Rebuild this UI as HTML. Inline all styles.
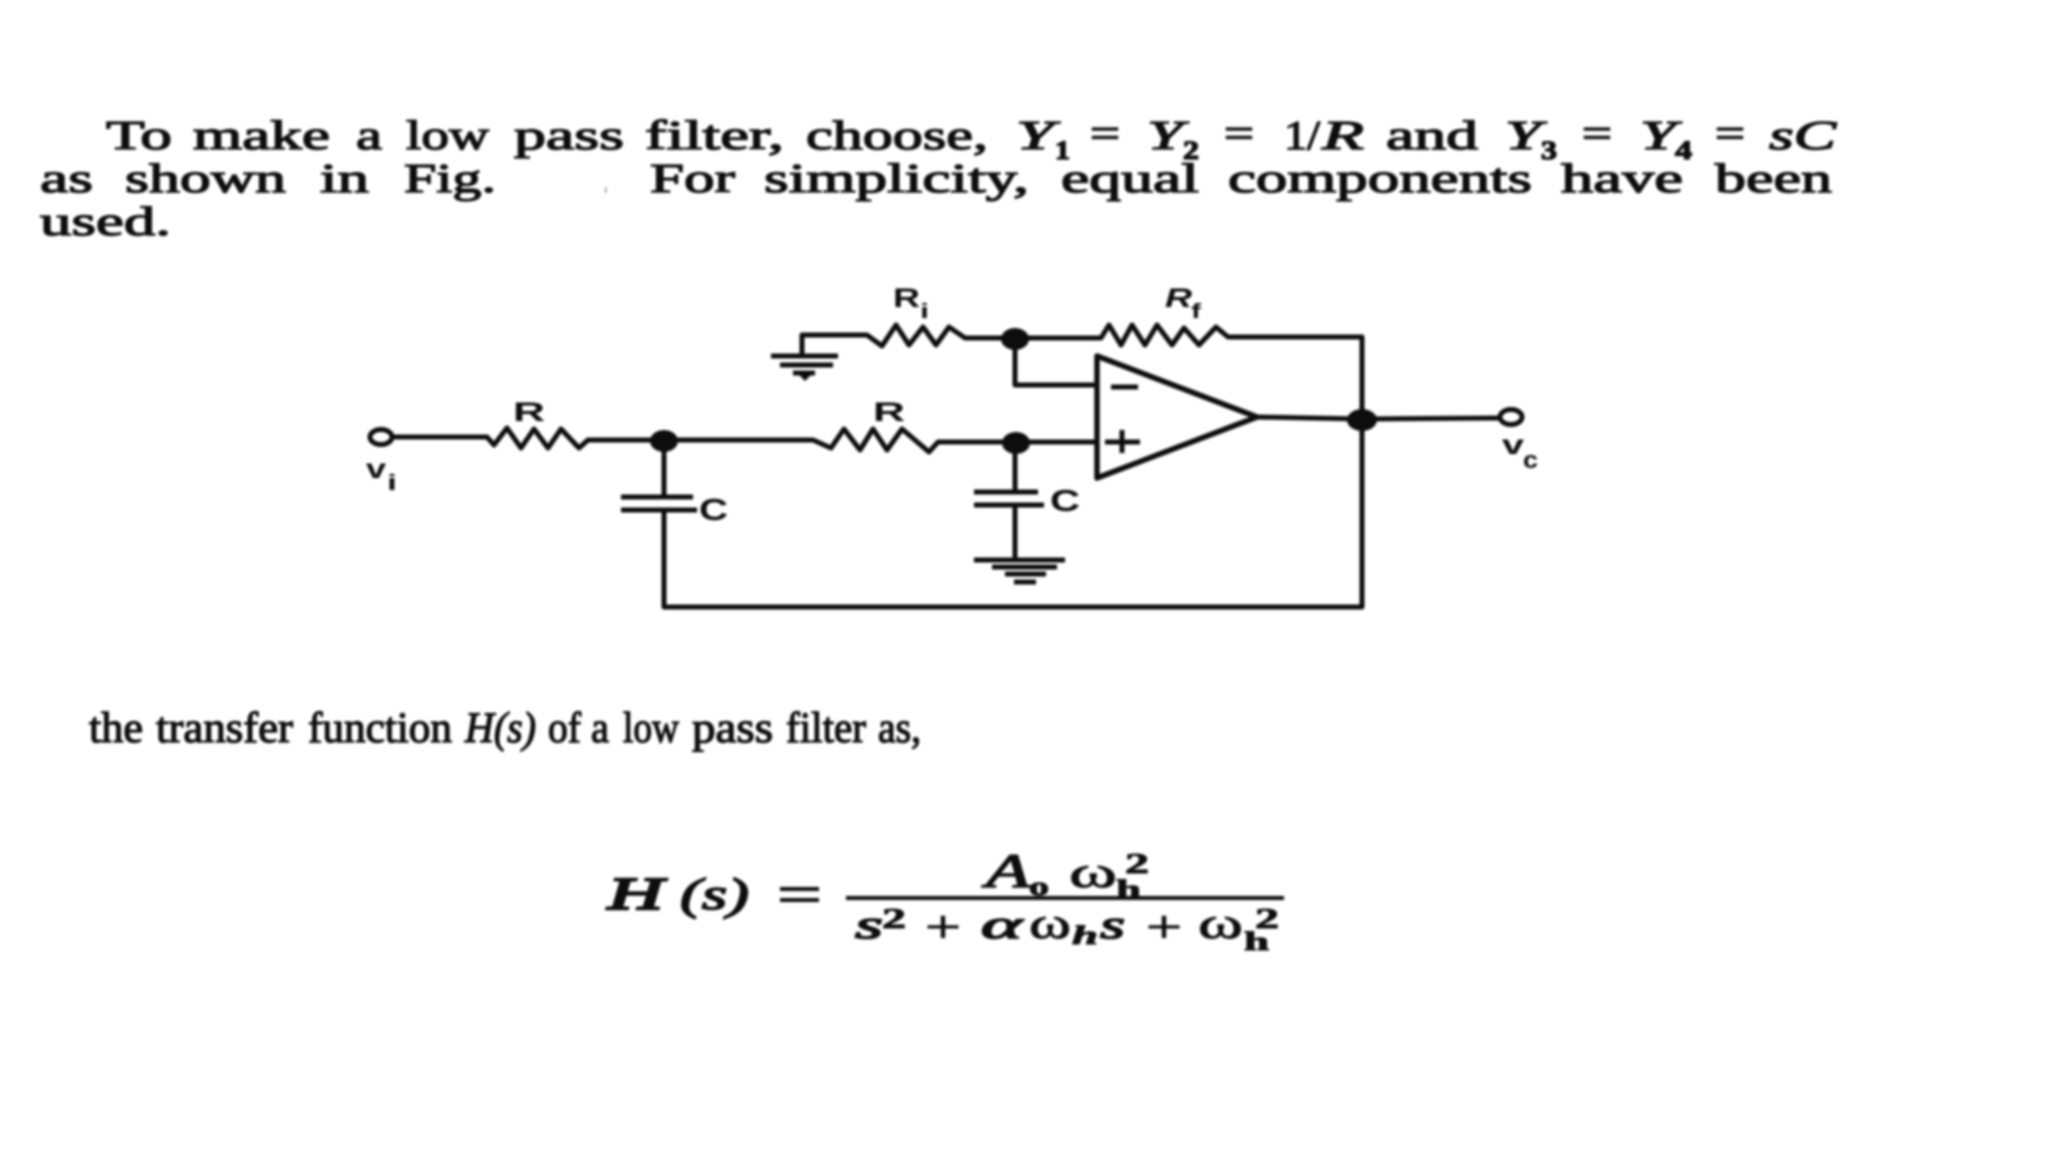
<!DOCTYPE html>
<html><head><meta charset="utf-8"><style>
html,body{margin:0;padding:0;background:#fff}
svg{display:block}
.t text{font-family:"Liberation Serif",serif;font-size:41px;fill:#111;stroke:#111;stroke-width:1.3px}
.t text.i{font-style:italic}
.t text.s{font-size:26px;font-weight:bold}
.t text.l{font-size:43px}
.f text{font-family:"Liberation Serif","DejaVu Serif",serif;font-size:40px;fill:#111;stroke:#111;stroke-width:.9px}
.f text.b{font-style:italic;stroke-width:1.6px}
.f text.s{font-size:26px;font-weight:bold}
.c text{font-family:"Liberation Sans",sans-serif;font-size:27px;font-weight:bold;fill:#111}
.w{fill:none;stroke:#111;stroke-width:5;stroke-linejoin:round}
.th{fill:none;stroke:#111;stroke-width:4}
</style></head><body>
<svg width="2048" height="1152" viewBox="0 0 2048 1152" xmlns="http://www.w3.org/2000/svg">
<defs><filter id="b" x="-5%" y="-5%" width="110%" height="110%"><feGaussianBlur stdDeviation="1.2"/></filter></defs>
<rect width="2048" height="1152" fill="#fff"/>
<g filter="url(#b)">
<g class="t">
<text x="106" y="149" textLength="66" lengthAdjust="spacingAndGlyphs">To</text>
<text x="193" y="149" textLength="137" lengthAdjust="spacingAndGlyphs">make</text>
<text x="356" y="149" textLength="26" lengthAdjust="spacingAndGlyphs">a</text>
<text x="406" y="149" textLength="83" lengthAdjust="spacingAndGlyphs">low</text>
<text x="514" y="149" textLength="110" lengthAdjust="spacingAndGlyphs">pass</text>
<text x="645" y="149" textLength="139" lengthAdjust="spacingAndGlyphs">filter,</text>
<text x="806" y="149" textLength="182" lengthAdjust="spacingAndGlyphs">choose,</text>
<text class="i" x="1016" y="149" textLength="38" lengthAdjust="spacingAndGlyphs">Y</text>
<text class="s" x="1055" y="159" textLength="15" lengthAdjust="spacingAndGlyphs">1</text>
<text x="1090" y="147" textLength="30" lengthAdjust="spacingAndGlyphs">=</text>
<text class="i" x="1147" y="149" textLength="36" lengthAdjust="spacingAndGlyphs">Y</text>
<text class="s" x="1183" y="159" textLength="16" lengthAdjust="spacingAndGlyphs">2</text>
<text x="1224" y="147" textLength="30" lengthAdjust="spacingAndGlyphs">=</text>
<text x="1284" y="149" textLength="36" lengthAdjust="spacingAndGlyphs">1/</text>
<text class="i" x="1322" y="149" textLength="42" lengthAdjust="spacingAndGlyphs">R</text>
<text x="1386" y="149" textLength="92" lengthAdjust="spacingAndGlyphs">and</text>
<text class="i" x="1505" y="149" textLength="36" lengthAdjust="spacingAndGlyphs">Y</text>
<text class="s" x="1541" y="159" textLength="16" lengthAdjust="spacingAndGlyphs">3</text>
<text x="1582" y="147" textLength="30" lengthAdjust="spacingAndGlyphs">=</text>
<text class="i" x="1640" y="149" textLength="36" lengthAdjust="spacingAndGlyphs">Y</text>
<text class="s" x="1675" y="159" textLength="17" lengthAdjust="spacingAndGlyphs">4</text>
<text x="1715" y="147" textLength="30" lengthAdjust="spacingAndGlyphs">=</text>
<text class="i" x="1769" y="149" textLength="67" lengthAdjust="spacingAndGlyphs">sC</text>

<text x="40" y="192" textLength="53" lengthAdjust="spacingAndGlyphs">as</text>
<text x="125" y="192" textLength="161" lengthAdjust="spacingAndGlyphs">shown</text>
<text x="320" y="192" textLength="49" lengthAdjust="spacingAndGlyphs">in</text>
<text x="404" y="192" textLength="92" lengthAdjust="spacingAndGlyphs">Fig.</text>
<text x="650" y="192" textLength="85" lengthAdjust="spacingAndGlyphs">For</text>
<text x="764" y="192" textLength="265" lengthAdjust="spacingAndGlyphs">simplicity,</text>
<text x="1061" y="192" textLength="138" lengthAdjust="spacingAndGlyphs">equal</text>
<text x="1228" y="192" textLength="304" lengthAdjust="spacingAndGlyphs">components</text>
<text x="1561" y="192" textLength="122" lengthAdjust="spacingAndGlyphs">have</text>
<text x="1715" y="192" textLength="117" lengthAdjust="spacingAndGlyphs">been</text>

<text x="40" y="235" textLength="131" lengthAdjust="spacingAndGlyphs">used.</text>

<text class="l" x="89" y="742" textLength="54" lengthAdjust="spacingAndGlyphs">the</text>
<text class="l" x="156" y="742" textLength="137" lengthAdjust="spacingAndGlyphs">transfer</text>
<text class="l" x="308" y="742" textLength="144" lengthAdjust="spacingAndGlyphs">function</text>
<text class="i l" x="465" y="742" textLength="71" lengthAdjust="spacingAndGlyphs">H(s)</text>
<text class="l" x="548" y="742" textLength="33" lengthAdjust="spacingAndGlyphs">of</text>
<text class="l" x="591" y="742" textLength="18" lengthAdjust="spacingAndGlyphs">a</text>
<text class="l" x="623" y="742" textLength="56" lengthAdjust="spacingAndGlyphs">low</text>
<text class="l" x="692" y="742" textLength="81" lengthAdjust="spacingAndGlyphs">pass</text>
<text class="l" x="786" y="742" textLength="80" lengthAdjust="spacingAndGlyphs">filter</text>
<text class="l" x="878" y="742" textLength="43" lengthAdjust="spacingAndGlyphs">as,</text>
</g>

<rect x="605" y="187" width="1.5" height="6" fill="#999"/>

<g class="f">
<text class="b" x="608" y="909" textLength="55" lengthAdjust="spacingAndGlyphs" style="font-size:46px;stroke-width:2.4px">H</text>
<text class="b" x="680" y="909" textLength="69" lengthAdjust="spacingAndGlyphs" style="font-size:44px">(s)</text>
<text class="b" x="986" y="887" textLength="44" lengthAdjust="spacingAndGlyphs" style="font-size:48px">A</text>
<text class="s" x="1029" y="895" textLength="20" lengthAdjust="spacingAndGlyphs">o</text>
<text x="1069" y="887" textLength="48" lengthAdjust="spacingAndGlyphs" style="font-size:44px">ω</text>
<text class="s" x="1125" y="873" textLength="24" lengthAdjust="spacingAndGlyphs" style="font-size:28px">2</text>
<text class="s" x="1116" y="898" textLength="25" lengthAdjust="spacingAndGlyphs">h</text>
<text class="b" x="855" y="938" textLength="28" lengthAdjust="spacingAndGlyphs">s</text>
<text class="s" x="882" y="928" textLength="24" lengthAdjust="spacingAndGlyphs" style="font-size:28px">2</text>
<text x="925" y="942" textLength="36" lengthAdjust="spacingAndGlyphs" style="font-size:46px">+</text>
<text class="b" x="981" y="938" textLength="41" lengthAdjust="spacingAndGlyphs">α</text>
<text x="1029" y="938" textLength="42" lengthAdjust="spacingAndGlyphs" style="font-size:44px">ω</text>
<text class="s" x="1072" y="944" textLength="26" lengthAdjust="spacingAndGlyphs" style="font-style:italic">h</text>
<text class="b" x="1100" y="938" textLength="25" lengthAdjust="spacingAndGlyphs">s</text>
<text x="1146" y="942" textLength="36" lengthAdjust="spacingAndGlyphs" style="font-size:46px">+</text>
<text x="1198" y="938" textLength="45" lengthAdjust="spacingAndGlyphs" style="font-size:44px">ω</text>
<text class="s" x="1255" y="928" textLength="24" lengthAdjust="spacingAndGlyphs" style="font-size:28px">2</text>
<text class="s" x="1244" y="950" textLength="25" lengthAdjust="spacingAndGlyphs">h</text>
</g>
<path d="M780 889H819M780 900H819" class="th"/>
<path d="M846 898H1284" class="th"/>

<g class="w">
<ellipse cx="381" cy="437" rx="11" ry="7.5"/>
<ellipse cx="1511" cy="417" rx="11" ry="7.5"/>
<path d="M392 437H487L494 445L507 428L521 448L534 429L548 448L561 429L579 448L588 440H664H813L831 448L844 429L860 450L873 429L887 450L902 429L929 452L938 442H1016"/>
<path d="M664 440V497M664 510V607H1362V337H1228L1216 327L1199 345L1184 328L1172 345L1157 325L1145 345L1132 325L1121 345L1109 325L1101 338H1014H965L949 327L936 345L923 327L909 345L896 325L882 346L867 335H802V357"/>
<path d="M1015 338V385H1097M1016 442H1097M1015 442V492M1015 505V560"/>
<path d="M1097 356V478L1257 417Z" stroke-width="5.5"/>
<path d="M1257 417L1362 419L1500 418"/>
<path d="M621 497H693M621 510H697M974 492H1038M974 505H1044"/>
<path d="M771 356H838M780 365H833M793 373H815"/>
<path d="M974 560H1065M992 567H1057M1005 574H1046M1014 582H1036"/>
<path d="M1111 387H1138M1105 442H1140M1122 430V453"/>
</g>
<g fill="#111">
<ellipse cx="664" cy="441" rx="14" ry="11"/>
<ellipse cx="1015" cy="339" rx="14" ry="11"/>
<ellipse cx="1016" cy="443" rx="14" ry="11"/>
<ellipse cx="1362" cy="420" rx="15" ry="11"/>
<path d="M795 371H815L805 381Z"/>
</g>
<g class="c">
<text x="513" y="421" textLength="32" lengthAdjust="spacingAndGlyphs">R</text>
<text x="873" y="421" textLength="32" lengthAdjust="spacingAndGlyphs">R</text>
<text x="893" y="307" textLength="27" lengthAdjust="spacingAndGlyphs">R</text>
<text x="920" y="318" textLength="9" lengthAdjust="spacingAndGlyphs" style="font-size:20px">i</text>
<text x="1165" y="307" textLength="27" lengthAdjust="spacingAndGlyphs" style="font-style:italic">R</text>
<text x="1191" y="318" textLength="10" lengthAdjust="spacingAndGlyphs" style="font-size:20px">f</text>
<text x="366" y="478" textLength="20" lengthAdjust="spacingAndGlyphs" style="font-size:28px">v</text>
<text x="387" y="490" textLength="10" lengthAdjust="spacingAndGlyphs" style="font-size:22px">i</text>
<text x="1502" y="454" textLength="22" lengthAdjust="spacingAndGlyphs" style="font-size:28px">v</text>
<text x="1523" y="468" textLength="15" lengthAdjust="spacingAndGlyphs" style="font-size:24px">c</text>
<text x="699" y="520" textLength="29" lengthAdjust="spacingAndGlyphs" style="font-size:31px">C</text>
<text x="1050" y="511" textLength="30" lengthAdjust="spacingAndGlyphs" style="font-size:31px">C</text>
</g>
</g>
</svg>
</body></html>
